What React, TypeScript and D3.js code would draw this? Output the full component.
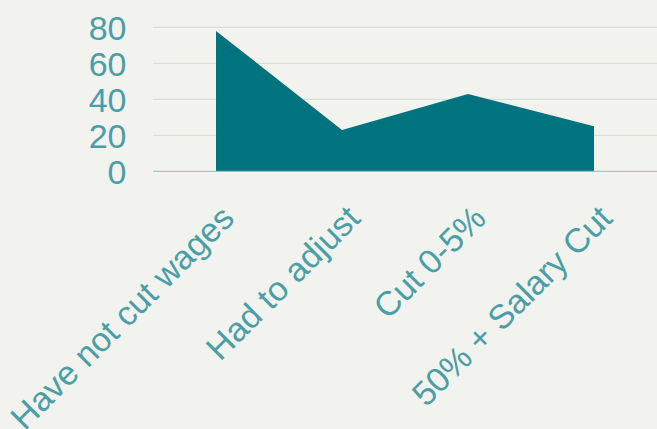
import React from "react";
import * as d3 from "d3";

const categories = ["Have not cut wages", "Had to adjust", "Cut 0-5%", "50% + Salary Cut"];
const values = [78, 23, 43, 25];
const yTicks = [0, 20, 40, 60, 80];

const W = 657;
const H = 429;

export default function App() {
  const x = d3.scaleBand<string>().domain(categories).range([153, 657]);
  const y = d3.scaleLinear().domain([0, 80]).range([171.3, 27.3]);
  const cx = (c: string) => (x(c) as number) + x.bandwidth() / 2;
  const data = categories.map((c, i) => ({ c, v: values[i] }));
  const area = d3
    .area<{ c: string; v: number }>()
    .x((d) => cx(d.c))
    .y0(y(0))
    .y1((d) => y(d.v));

  return (
    <div style={{ position: "fixed", left: 0, top: 0, width: W, height: H, background: "#f2f2ee" }}>
      <svg width={W} height={H} style={{ display: "block", fontFamily: "'Liberation Sans', Arial, sans-serif" }}>
        {yTicks.filter((t) => t !== 0).map((t) => (
          <line key={t} x1={153} x2={657} y1={y(t)} y2={y(t)} stroke="#cfdcd9" strokeWidth={1} />
        ))}
        <path d={area(data) || ""} fill="#00747e" />
        <line x1={153} x2={657} y1={y(0)} y2={y(0)} stroke="#8cbcbd" strokeWidth={1} />
        {yTicks.map((t) => (
          <text key={t} x={126.5} y={y(t)} dy="0.36em" textAnchor="end" fontSize={34} fill="#4a9fa6">
            {t}
          </text>
        ))}
        {categories.map((c) => (
          <text
            key={c}
            transform={`translate(${cx(c) + 20},${y(0) + 49}) rotate(-45)`}
            textAnchor="end"
            fontSize={34}
            fill="#4a9fa6"
          >
            {c}
          </text>
        ))}
      </svg>
    </div>
  );
}
